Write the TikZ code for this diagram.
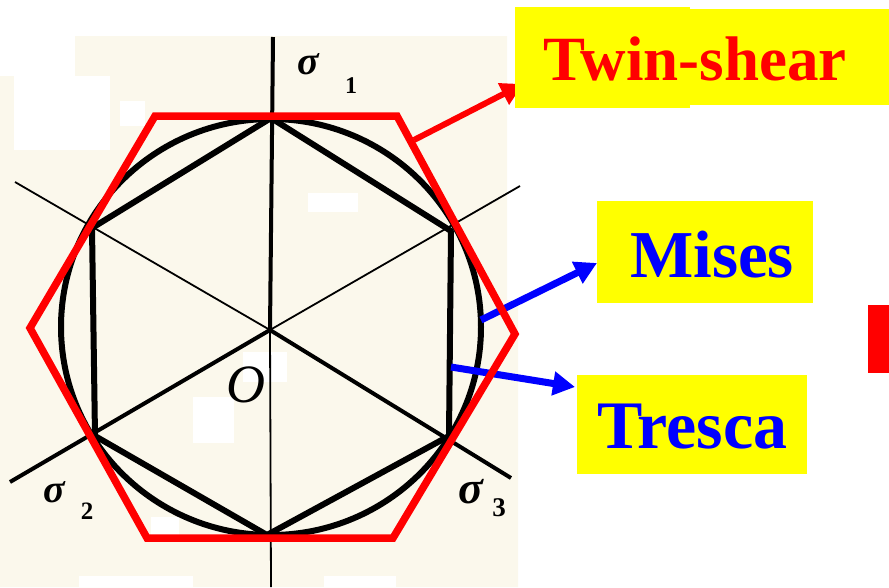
\documentclass[tikz,border=0pt]{standalone}
\usepackage{fontspec}
\setmainfont{Liberation Serif}
\usetikzlibrary{arrows.meta}
\definecolor{paper}{RGB}{251,248,236}
\definecolor{hl}{RGB}{255,255,0}
\begin{document}
\begin{tikzpicture}[x=1pt,y=-1pt,
  thinax/.style={line width=1.8pt, black},
  thickax/.style={line width=4pt, black},
  curve/.style={line width=6pt, black, line join=round},
  twinhex/.style={line width=7.5pt, red, line join=miter},
  ptr/.style={line width=7pt, -{Triangle[length=22pt,width=23pt]}},
  box/.style={fill=hl, inner sep=0pt, anchor=north west},
  sig/.style={inner sep=0pt, font=\fontsize{#1}{#1}\selectfont\bfseries\itshape},
  sub/.style={inner sep=0pt, font=\fontsize{#1}{#1}\selectfont\bfseries},
  big/.style={inner sep=0pt, anchor=base west, font=\fontsize{#1}{#1}\selectfont\bfseries},
]
\useasboundingbox (0,0) rectangle (889,587);
% scanned paper background
\fill[paper] (0,76) -- (75,76) -- (75,36) -- (507,36) -- (507,300) -- (518,300) -- (518,587) -- (0,587) -- cycle;
\fill[white] (14,76) rectangle (110,150);
\fill[white] (120,101) rectangle (145,126);
\fill[white] (308,193) rectangle (358,212);
\fill[white] (243,352) rectangle (287,382);
\fill[white] (193,397) rectangle (234,443);
\fill[white] (151,517) rectangle (179,538);
\fill[white] (79,576) rectangle (193,587);
\fill[white] (324,576) rectangle (396,587);

% centre and axes
\coordinate (O) at (270,330);
\coordinate (s1end) at (273,37);
\coordinate (s2end) at (10,482);
\coordinate (s3end) at (511,478);
\coordinate (n1end) at (271,587);
\coordinate (n2end) at (15,182);
\coordinate (n3end) at (520,186);
\draw[thinax] (n2end) -- (O) -- (n3end);
\draw[thinax] (O) -- (n1end);
\draw[thickax] (O) -- (s1end);
\draw[thickax] (O) -- (s2end);
\draw[thickax] (O) -- (s3end);

% Tresca hexagon
\coordinate (t1) at (271,118);
\coordinate (t2) at (451,231);
\coordinate (t3) at (449,436);
\coordinate (t4) at (267,535);
\coordinate (t5) at (95,436);
\coordinate (t6) at (92,228);
\draw[curve] (t1) -- (t2) -- (t3) -- (t4) -- (t5) -- (t6) -- cycle;

% Mises circle
\draw[curve] (271,327) ellipse [x radius=210pt, y radius=208pt];

% arrow start points and tips
\coordinate (misfrom) at (481,320);
\coordinate (misto) at (597,263);
\coordinate (trefrom) at (451,367);
\coordinate (treto) at (575,387);
\coordinate (twfrom) at (414,140);
\coordinate (twto) at (523,84);
\draw[ptr, blue] (misfrom) -- (misto);
\draw[ptr, blue] (trefrom) -- (treto);

% Twin-shear hexagon
\coordinate (r1) at (155,116);
\coordinate (r2) at (397,116);
\coordinate (r3) at (515,334);
\coordinate (r4) at (393,538);
\coordinate (r5) at (147,538);
\coordinate (r6) at (30,328);
\draw[twinhex] (r1) -- (r2) -- (r3) -- (r4) -- (r5) -- (r6) -- cycle;
\draw[ptr, red, line width=6pt] (twfrom) -- (twto);

% axis labels
\node[sig=40] (sig1) at (308,64) {σ};
\node[sub=24] (sub1) at (351,86) {1};
\node[sig=40] (sig2) at (54,492) {σ};
\node[sub=25] (sub2) at (87,511) {2};
\node[sig=46] (sig3) at (471,492) {σ};
\node[sub=27] (sub3) at (499,508) {3};
\node[sig=54] (origin) at (246,385) {\mdseries O};

% yellow label boxes
\node[box, minimum width=175pt, minimum height=101pt] (twinboxA) at (515,7) {};
\node[box, minimum width=199pt, minimum height=96pt] (twinboxB) at (690,9) {};
\node[box, minimum width=216pt, minimum height=102pt] (misesbox) at (597,201) {};
\node[box, minimum width=230pt, minimum height=99pt] (trescabox) at (577,375) {};
\node[big=63, text=red] (twintext) at (543,80) {Twin-shear};
\node[big=67, text=blue] (misestext) at (630,277) {Mises};
\node[big=68, text=blue] (trescatext) at (597,448) {Tresca};

% red marker at right edge
\node[fill=red, inner sep=0pt, anchor=north west, minimum width=21pt, minimum height=68pt] (marker) at (868,305) {};
\end{tikzpicture}
\end{document}
